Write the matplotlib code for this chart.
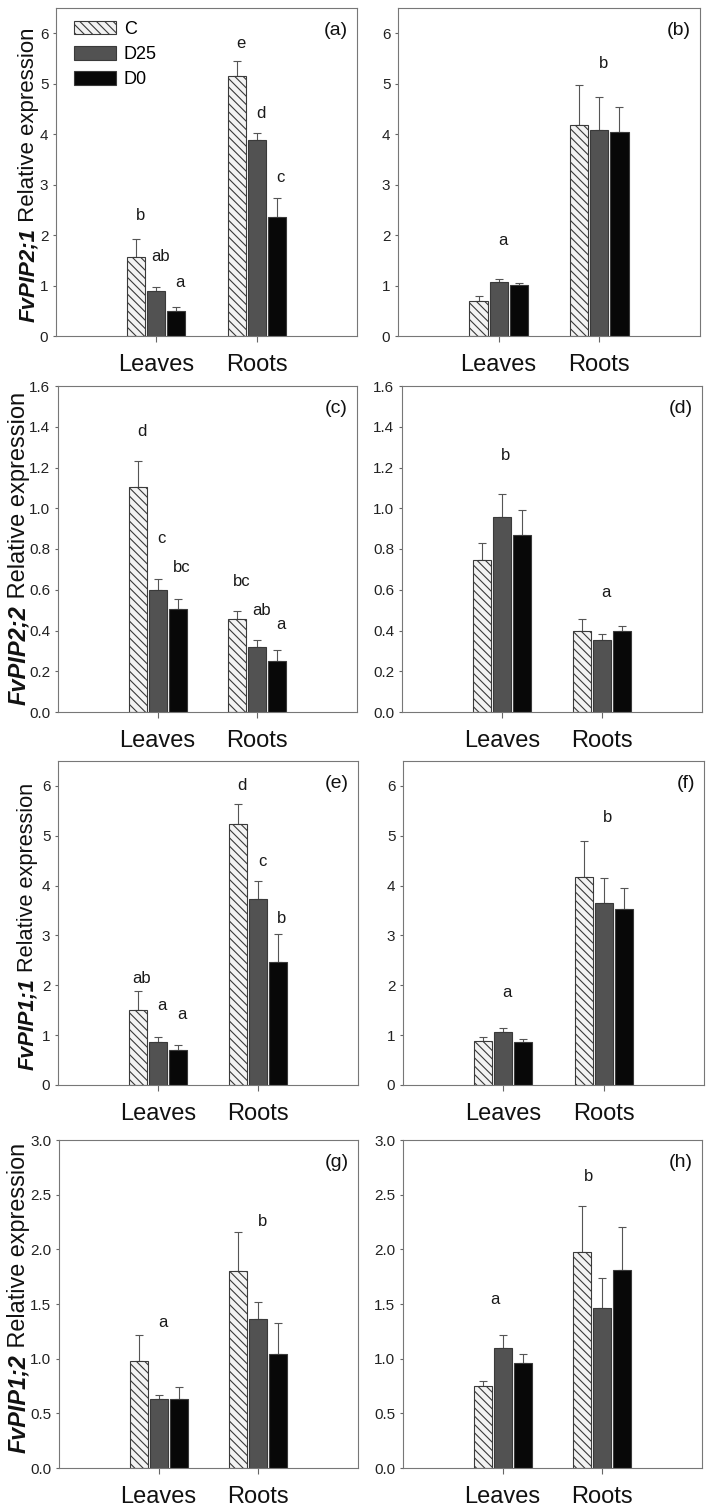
import numpy as np
import matplotlib
matplotlib.use('Agg')
import matplotlib.pyplot as plt
from matplotlib.patches import Patch

plt.rcParams['font.family'] = ['Liberation Sans', 'DejaVu Sans']
plt.rcParams['hatch.linewidth'] = 0.8

GROUPS = ['Leaves', 'Roots']
TREATMENTS = ['C', 'D25', 'D0']

# means / upper SE for each panel, rows = Leaves, Roots; cols = C, D25, D0
a_mean = [[1.56, 0.89, 0.49], [5.16, 3.88, 2.35]]
a_err = [[0.37, 0.09, 0.08], [0.28, 0.14, 0.39]]
b_mean = [[0.70, 1.07, 1.01], [4.19, 4.09, 4.04]]
b_err = [[0.09, 0.05, 0.05], [0.78, 0.65, 0.49]]
c_mean = [[1.105, 0.60, 0.505], [0.458, 0.318, 0.25]]
c_err = [[0.125, 0.055, 0.05], [0.04, 0.033, 0.056]]
d_mean = [[0.746, 0.955, 0.87], [0.40, 0.351, 0.396]]
d_err = [[0.083, 0.115, 0.12], [0.057, 0.03, 0.025]]
e_mean = [[1.505, 0.87, 0.70], [5.23, 3.74, 2.47]]
e_err = [[0.38, 0.10, 0.11], [0.40, 0.35, 0.56]]
f_mean = [[0.89, 1.07, 0.86], [4.17, 3.65, 3.53]]
f_err = [[0.07, 0.07, 0.06], [0.73, 0.51, 0.42]]
g_mean = [[0.98, 0.63, 0.63], [1.80, 1.36, 1.04]]
g_err = [[0.24, 0.04, 0.11], [0.36, 0.16, 0.29]]
h_mean = [[0.75, 1.10, 0.96], [1.98, 1.46, 1.81]]
h_err = [[0.05, 0.12, 0.08], [0.42, 0.28, 0.39]]

# significance letters: (group, slot, y, text); slot = bar offset (-1, 0, 1)
a_let = [(0, -1, 2.39, 'b'), (0, 0, 1.57, 'ab'), (0, 1, 1.07, 'a'),
         (1, -1, 5.8, 'e'), (1, 0, 4.4, 'd'), (1, 1, 3.15, 'c')]
b_let = [(0, 0, 1.9, 'a'), (1, 0, 5.4, 'b')]
c_let = [(0, -1, 1.375, 'd'), (0, 0, 0.85, 'c'), (0, 1, 0.71, 'bc'),
         (1, -1, 0.64, 'bc'), (1, 0, 0.50, 'ab'), (1, 1, 0.43, 'a')]
d_let = [(0, 0, 1.26, 'b'), (1, 0, 0.586, 'a')]
e_let = [(0, -1, 2.14, 'ab'), (0, 0, 1.59, 'a'), (0, 1, 1.42, 'a'),
         (1, -1, 6.0, 'd'), (1, 0, 4.48, 'c'), (1, 1, 3.34, 'b')]
f_let = [(0, 0, 1.86, 'a'), (1, 0, 5.36, 'b')]
g_let = [(0, 0, 1.33, 'a'), (1, 0, 2.25, 'b')]
h_let = [(0, -0.6, 1.54, 'a'), (1, -0.9, 2.67, 'b')]

genes = ['FvPIP2;1', 'FvPIP2;2', 'FvPIP1;1', 'FvPIP1;2']
ylims = [6.5, 1.6, 6.5, 3.0]
yticks = [np.arange(0, 7, 1), np.arange(0, 1.61, 0.2), np.arange(0, 7, 1), np.arange(0, 3.01, 0.5)]
yfmt = ['%d', '%.1f', '%d', '%.1f']

W, H = 714, 1512
fig = plt.figure(figsize=(W / 100, H / 100), dpi=100)

# axes boxes in pixels: left, top, right, bottom
boxes = [(56, 8, 357, 336), (398, 8, 700, 336),
         (58, 386, 357, 712), (402, 386, 702, 712),
         (58, 761, 358, 1085), (403, 761, 704, 1085),
         (59, 1140, 358, 1468), (403, 1140, 702, 1468)]
# y label: centre x, bottom y (pixels) and font size for each row
ylab_pos = [(29, 322, 16), (19, 705, 17), (28, 1070, 15.7), (19, 1453, 16.8)]

panels = [(a_mean, a_err, a_let), (b_mean, b_err, b_let),
          (c_mean, c_err, c_let), (d_mean, d_err, d_let),
          (e_mean, e_err, e_let), (f_mean, f_err, f_let),
          (g_mean, g_err, g_let), (h_mean, h_err, h_let)]

fills = ['#f3f3f3', '#525252', '#080808']
hatches = ['\\\\\\\\', None, None]
width = 0.18
gap = 0.2
x0 = np.array([1, 2])

for i, (mean, err, lets) in enumerate(panels):
    l, t, r, b = boxes[i]
    ax = fig.add_axes([l / W, 1 - b / H, (r - l) / W, (b - t) / H])
    row = i // 2
    mean = np.array(mean)
    err = np.array(err)
    for k in range(3):
        xs = x0 + (k - 1) * gap
        ax.bar(xs, mean[:, k], width, color=fills[k], edgecolor='#3a3a3a',
               linewidth=0.8, hatch=hatches[k], zorder=2)
        ax.errorbar(xs, mean[:, k], yerr=[np.zeros(2), err[:, k]], fmt='none',
                    ecolor='#555555', elinewidth=0.8, capsize=3, capthick=0.8, zorder=1)
    for g, slot, y, txt in lets:
        ax.text(x0[g] + slot * gap + 0.04, y, txt, ha='center', va='center',
                fontsize=12, color='#1a1a1a')
    ax.set_xlim(0, 3)
    ax.set_ylim(0, ylims[row])
    ax.set_xticks(x0)
    ax.set_xticklabels(GROUPS, fontsize=17, color='#111111')
    ax.set_yticks(yticks[row])
    ax.set_yticklabels([yfmt[row] % v for v in yticks[row]], fontsize=11, color='#222222')
    ax.tick_params(axis='x', length=4, width=0.8, color='#666666', pad=9)
    ax.tick_params(axis='y', length=2.5, width=0.8, color='#666666', pad=3)
    for s in ax.spines.values():
        s.set_color('#777777')
        s.set_linewidth(0.8)
    ax.text(0.97, 0.93, '(%s)' % 'abcdefgh'[i], transform=ax.transAxes,
            ha='right', va='center', fontsize=14, color='#111111')
    if i % 2 == 0:
        lx, lb, fs = ylab_pos[row]
        t1 = fig.text(lx / W, 1 - lb / H, genes[row], rotation=90, ha='center',
                      va='bottom', fontsize=fs, fontweight='bold', style='italic',
                      color='#111111')
        ax.annotate(' Relative expression', xy=(0.5, 1.0), xycoords=t1,
                    rotation=90, ha='center', va='bottom', fontsize=fs,
                    color='#111111', annotation_clip=False)
    if i == 0:
        handles = [Patch(facecolor=fills[k], edgecolor='#3a3a3a', hatch=hatches[k],
                         linewidth=0.8) for k in range(3)]
        ax.legend(handles, TREATMENTS, loc='upper left', bbox_to_anchor=(0.06, 0.96),
                  frameon=False, fontsize=13, handlelength=2.3, handleheight=0.75,
                  handletextpad=0.45, labelspacing=0.45, borderpad=0, borderaxespad=0)

fig.savefig('out.png', dpi=100)
